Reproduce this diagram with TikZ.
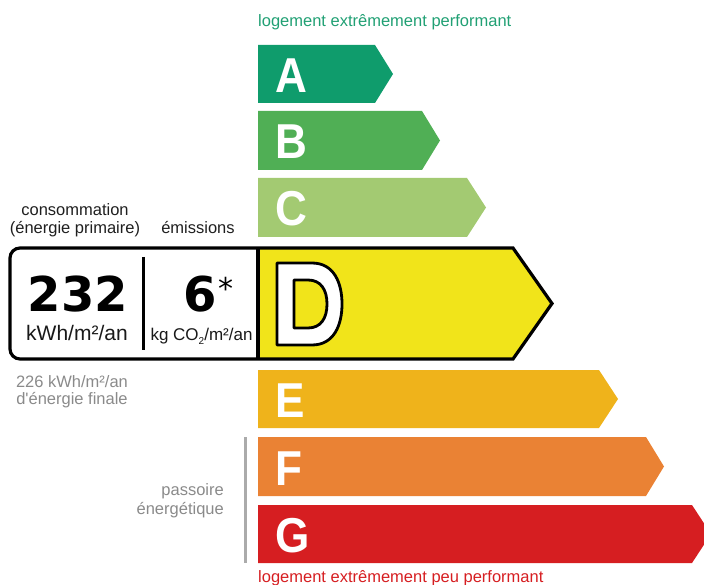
\documentclass[tikz,border=0pt]{standalone}
\usepackage{fontspec}
\setmainfont{Liberation Sans}[Ligatures=TeXOff]
\newfontfamily\dvsans{DejaVu Sans}
\definecolor{dpeA}{HTML}{0F9C6C}
\definecolor{dpeB}{HTML}{50AF55}
\definecolor{dpeC}{HTML}{A3CA72}
\definecolor{dpeD}{HTML}{F1E41A}
\definecolor{dpeE}{HTML}{EFB31B}
\definecolor{dpeF}{HTML}{EA8234}
\definecolor{dpeG}{HTML}{D61E21}
\definecolor{topgreen}{HTML}{21A074}
\definecolor{greytxt}{HTML}{8A8A8A}
\definecolor{greyline}{HTML}{ABABAB}
\newcommand\dpebar[7]{%
  \fill[#6] (258,#2) -- (#4,#2) -- (#5,{(#2+#3)/2}) -- (#4,#3) -- (258,#3) -- cycle;
  \node[classletter] (#1) at (275,{(#2+#3)/2+18.5}) {\scalebox{0.9}[1]{#7}};
}
\begin{document}
\begin{tikzpicture}[x=1pt,y=-1pt,
  classletter/.style={font=\fontsize{49}{49}\selectfont\bfseries, text=white, anchor=base west, inner sep=0pt},
  lbl/.style={font=\fontsize{16.5}{18}\selectfont, inner sep=0pt, text=black!88},
  greylbl/.style={font=\fontsize{16.5}{18}\selectfont, inner sep=0pt, text=greytxt},
  bignum/.style={font=\dvsans\bfseries\fontsize{48}{48}\selectfont, inner sep=0pt, anchor=base},
  unit/.style={font=\fontsize{21}{21}\selectfont, inner sep=0pt, anchor=base, text=black!90}
]
\useasboundingbox (0,0) rectangle (704,585);

% top and bottom labels
\node[lbl, text=topgreen, anchor=base west] (toplabel) at (258,27) {logement extrêmement performant};
\node[lbl, text=dpeG, anchor=base west] (botlabel) at (258,582) {logement extrêmement peu performant};

% bars
\dpebar{A}{45}{103}{375}{393}{dpeA}{A}
\dpebar{B}{111}{170}{422}{440}{dpeB}{B}
\dpebar{C}{178}{237}{467}{486}{dpeC}{C}
\dpebar{E}{370}{428}{599}{618}{dpeE}{E}
\dpebar{F}{437}{496}{646}{664}{dpeF}{F}
\dpebar{G}{505}{563}{692}{711}{dpeG}{G}

% D block with consumption box
\fill[white] (20,248) -- (513,248) -- (552,303.5) -- (513,359) -- (20,359)
  arc[start angle=90,end angle=180,radius=10] -- (10,258)
  arc[start angle=180,end angle=270,radius=10] -- cycle;
\fill[dpeD] (258,248) -- (513,248) -- (552,303.5) -- (513,359) -- (258,359) -- cycle;
\draw[line width=3.2pt] (20,248) -- (513,248) -- (552,303.5) -- (513,359) -- (20,359)
  arc[start angle=90,end angle=180,radius=10] -- (10,258)
  arc[start angle=180,end angle=270,radius=10] -- cycle;
\draw[line width=3.2pt] (258,248) -- (258,359);
\draw[line width=3pt] (143,257) -- (143,350);

% outlined letter D
\path[fill=white, draw=black, line width=2.8pt, line join=round, even odd rule]
  (277,263) -- (312,263) .. controls (334,263) and (342,283) .. (342,304)
  .. controls (342,325) and (334,345) .. (312,345) -- (277,345) -- cycle
  (294,280) -- (308,280) .. controls (321,280) and (327,290) .. (327,304)
  .. controls (327,318) and (321,328) .. (308,328) -- (294,328) -- cycle;

% values
\node[bignum] (conso) at (78,312) {232};
\node[unit] (consounit) at (77,340) {kWh/m²/an};
\node[bignum, anchor=base west] (emis) at (183,312) {6};
\node[font=\dvsans\fontsize{30}{30}\selectfont, inner sep=0pt] (star) at (226,288) {*};
\node[unit, font=\fontsize{17}{17}\selectfont] (emisunit) at (201.5,340)
  {kg CO{\fontsize{10}{10}\selectfont\raisebox{-4pt}{2}}/m²/an};

% headings
\node[lbl, anchor=base] (h1) at (75,216) {consommation};
\node[lbl, anchor=base] (h2) at (75,234) {(énergie primaire)};
\node[lbl, anchor=base] (h3) at (198,234) {émissions};

\node[greylbl, anchor=base] (f1) at (72,387) {226 kWh/m²/an};
\node[greylbl, anchor=base] (f2) at (72,404) {d'énergie finale};

% passoire
\draw[greyline, line width=3pt] (245,437) -- (245,563);
\node[greylbl, anchor=base east] (p1) at (224,495) {passoire};
\node[greylbl, anchor=base east] (p2) at (224,514) {énergétique};
\end{tikzpicture}
\end{document}
